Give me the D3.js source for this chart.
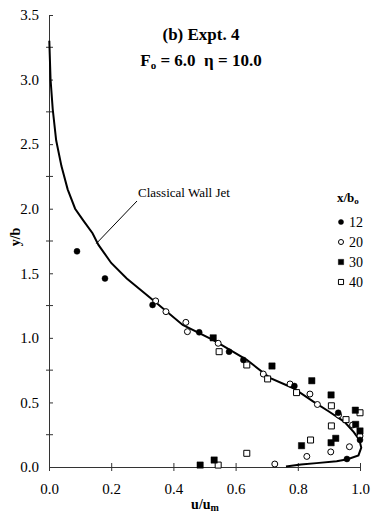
<!DOCTYPE html>
<html>
<head>
<meta charset="utf-8">
<script src="https://cdn.jsdelivr.net/npm/d3@7"></script>
<style>
  html, body { margin: 0; padding: 0; background: #fff; }
  svg { display: block; }
  svg text { font-family: "Liberation Serif", "Times New Roman", Times, serif; }
</style>
</head>
<body>
<svg id="chart" width="373" height="515"></svg>
<script>
// Velocity profile data, x/b_o stations
const series12 = [[0.09,1.67],[0.18,1.46],[0.333,1.255],[0.483,1.043],[0.579,0.893],[0.625,0.829],[0.789,0.627],[0.93,0.42],[0.958,0.062],[1.0,0.21]];
const series20 = [[0.343,1.286],[0.376,1.203],[0.44,1.12],[0.445,1.048],[0.544,0.958],[0.689,0.72],[0.775,0.643],[0.839,0.565],[0.863,0.484],[0.931,0.402],[0.976,0.325],[1.0,0.24],[0.966,0.157],[0.906,0.117],[0.829,0.082],[0.726,0.023]];
const series30 = [[0.486,0.015],[0.531,0.054],[0.812,0.165],[0.907,0.188],[0.922,0.222],[0.986,0.33],[1.0,0.279],[0.985,0.44],[0.907,0.558],[0.845,0.668],[0.717,0.782],[0.528,1.0]];
const series40 = [[0.544,0.015],[0.636,0.106],[0.841,0.209],[0.908,0.318],[0.908,0.474],[0.955,0.367],[1.0,0.42],[0.796,0.576],[0.703,0.682],[0.636,0.79],[0.547,0.893]];
// Classical wall jet profile
const wallJet = [[0.001,3.30],[0.005,3.0],[0.012,2.77],[0.023,2.53],[0.04,2.33],[0.06,2.15],[0.084,2.0],[0.11,1.91],[0.14,1.81],[0.159,1.72],[0.2,1.58],[0.25,1.46],[0.336,1.29],[0.43,1.10],[0.53,0.98],[0.636,0.83],[0.71,0.69],[0.786,0.61],[0.85,0.506],[0.90,0.43],[0.95,0.35],[0.98,0.27],[0.998,0.21],[1.004,0.15],[0.995,0.09],[0.96,0.06],[0.925,0.045],[0.86,0.03],[0.81,0.02],[0.762,0.003]];
const xTicks = [0, 0.2, 0.4, 0.6, 0.8, 1.0];
const yTicks = [0, 0.5, 1.0, 1.5, 2.0, 2.5, 3.0, 3.5];
const yMinorTicks = [0.25, 0.75, 1.25, 1.75, 2.25, 2.75, 3.25];
const legendLabels = ["12", "20", "30", "40"];

const svg = d3.select("#chart");
const x = d3.scaleLinear().domain([0, 1]).range([49, 360]);
const y = d3.scaleLinear().domain([0, 3.5]).range([467, 15]);
const ink = "#000";
const serif = '"Liberation Serif", "Times New Roman", Times, serif';

// axes
const gx = svg.append("g").attr("transform", `translate(0,${y(0)})`)
  .call(d3.axisBottom(x).tickValues(xTicks).tickFormat(d3.format(".1f")).tickSizeInner(4).tickSizeOuter(0).tickPadding(12));
gx.attr("font-family", serif);
gx.selectAll(".tick line").attr("y1", -4).attr("stroke", "#333");
gx.select(".domain").attr("stroke", "#333");
gx.selectAll("text").attr("font-size", 15).attr("fill", ink);

const gy = svg.append("g").attr("transform", `translate(${x(0)},0)`)
  .call(d3.axisLeft(y).tickValues(yTicks).tickFormat(d3.format(".1f")).tickSizeInner(6).tickSizeOuter(0).tickPadding(4));
gy.attr("font-family", serif);
gy.selectAll(".tick line").attr("x2", 4).attr("stroke", "#333");
gy.select(".domain").attr("stroke", "#333");
gy.selectAll("text").attr("font-size", 15).attr("fill", ink);

svg.append("g").selectAll("line").data(yMinorTicks).join("line")
  .attr("x1", x(0) - 3).attr("x2", x(0) + 4)
  .attr("y1", d => y(d)).attr("y2", d => y(d)).attr("stroke", "#333");

// axis titles
svg.append("text").attr("x", 205).attr("y", 509).attr("text-anchor", "middle")
  .attr("font-size", 14).attr("font-weight", "bold")
  .html('u/u<tspan font-size="10" dy="2">m</tspan>');
svg.append("text").attr("transform", "translate(20,237) rotate(-90)").attr("text-anchor", "middle")
  .attr("font-size", 14).attr("font-weight", "bold").text("y/b");

// title
svg.append("text").attr("x", 201).attr("y", 40).attr("text-anchor", "middle")
  .attr("font-size", 17).attr("font-weight", "bold").text("(b) Expt. 4");
svg.append("text").attr("x", 201).attr("y", 66).attr("text-anchor", "middle")
  .attr("font-size", 17).attr("font-weight", "bold").style("white-space", "pre")
  .html('F<tspan font-size="11" dy="3">o</tspan><tspan dy="-3"> = 6.0  η = 10.0</tspan>');

// wall jet curve
svg.append("path").datum(wallJet)
  .attr("d", d3.line().x(d => x(d[0])).y(d => y(d[1])))
  .attr("fill", "none").attr("stroke", ink).attr("stroke-width", 2);

// annotation
svg.append("line").attr("x1", x(0.152)).attr("y1", y(1.73)).attr("x2", 137).attr("y2", 201)
  .attr("stroke", ink).attr("stroke-width", 1);
svg.append("text").attr("x", 138).attr("y", 197).attr("font-size", 13).text("Classical Wall Jet");

// markers
const sym = (type, size) => d3.symbol().type(type).size(size)();
const drawSeries = (data, type, size, filled) => {
  svg.append("g").selectAll("path").data(data).join("path")
    .attr("transform", d => `translate(${x(d[0])},${y(d[1])})`)
    .attr("d", sym(type, size))
    .attr("fill", filled ? ink : "#fff")
    .attr("stroke", ink).attr("stroke-width", filled ? 0.5 : 1);
};
drawSeries(series20, d3.symbolCircle, 28, false);
drawSeries(series40, d3.symbolSquare, 36, false);
drawSeries(series12, d3.symbolCircle, 28, true);
drawSeries(series30, d3.symbolSquare, 40, true);

// legend
const lg = svg.append("g");
lg.append("text").attr("x", 337).attr("y", 202).attr("font-size", 13).attr("font-weight", "bold")
  .html('x/b<tspan font-size="9" dy="2">o</tspan>');
const legendSyms = [[d3.symbolCircle, 20, true], [d3.symbolCircle, 20, false], [d3.symbolSquare, 28, true], [d3.symbolSquare, 26, false]];
legendLabels.forEach((lab, i) => {
  const cy = 222 + i * 20;
  lg.append("path").attr("transform", `translate(341,${cy})`).attr("d", sym(legendSyms[i][0], legendSyms[i][1]))
    .attr("fill", legendSyms[i][2] ? ink : "#fff").attr("stroke", ink).attr("stroke-width", legendSyms[i][2] ? 0.5 : 1);
  lg.append("text").attr("x", 349).attr("y", cy + 5).attr("font-size", 14).text(lab);
});
</script>
</body>
</html>
